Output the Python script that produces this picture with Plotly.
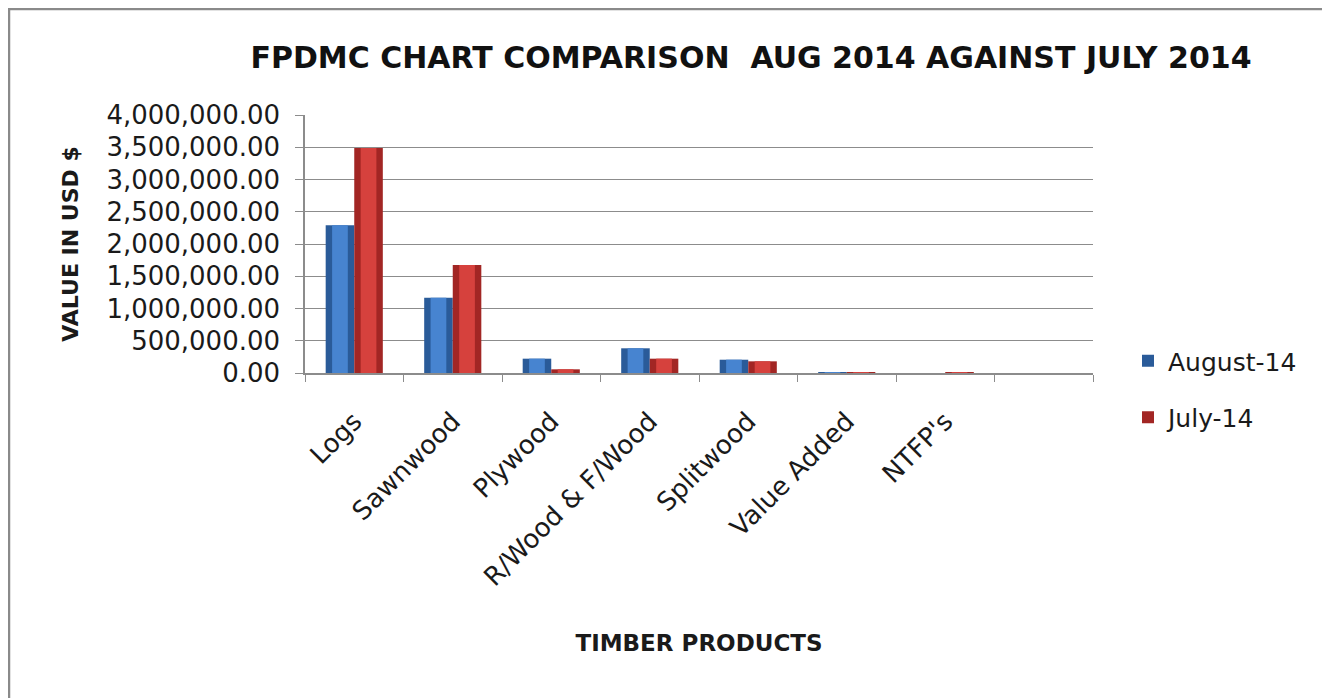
import plotly.graph_objects as go

categories = ["Logs", "Sawnwood", "Plywood", "R/Wood & F/Wood", "Splitwood", "Value Added", "NTFP's", ""]
august_14 = [2290000, 1168000, 222000, 383000, 206000, 15000, None, None]
july_14 = [3490000, 1674000, 57000, 222000, 181000, 15000, 15000, None]
series = [("August-14", august_14, "#2A5B99", "#4784D0", -1),
          ("July-14", july_14, "#A22624", "#D6413D", 1)]

xs = list(range(len(categories)))
bw = 0.29
fig = go.Figure()
for name, vals, dark, light, side in series:
    base_x = [x + side * bw / 2 for x in xs]
    fig.add_trace(go.Bar(x=base_x, y=vals, width=bw, name=name,
                         marker=dict(color=dark, line=dict(width=0)),
                         legendgroup=name, showlegend=True))
    fig.add_trace(go.Bar(x=base_x, y=vals, width=bw * 0.55, name=name,
                         marker=dict(color=light, line=dict(width=0)),
                         legendgroup=name, showlegend=False, hoverinfo="skip"))

# page body has 8px margin: figure coordinates = screen - 8
OFF = 8
W, H = 1330 - OFF, 698 - OFF
L, R, T, B = 305 - OFF, 1093 - OFF, 115 - OFF, 373 - OFF
fig.update_layout(
    width=W, height=H, barmode="overlay",
    paper_bgcolor="white", plot_bgcolor="white",
    margin=dict(l=L, r=W - R, t=T, b=H - B, autoexpand=False),
    font=dict(family="DejaVu Sans", color="#1a1a1a"),
    title=dict(text="<b>FPDMC CHART COMPARISON  AUG 2014 AGAINST JULY 2014</b>",
               x=(751 - OFF) / W, xanchor="center", y=1 - (57 - OFF) / H, yanchor="middle",
               font=dict(size=30, family="DejaVu Sans", color="#111")),
    legend=dict(x=(1128 - 305) / (1093 - 305), xanchor="left", y=(373 - 338) / (373 - 115), yanchor="top",
                font=dict(size=25), tracegroupgap=21, bgcolor="rgba(0,0,0,0)"),
    showlegend=True,
)
fig.update_xaxes(range=[-0.5, len(categories) - 0.5], tickmode="array", tickvals=xs,
                 ticktext=categories, tickangle=-45, ticks="", showgrid=False,
                 showline=True, linecolor="#8c8c8c", linewidth=1.5,
                 tickfont=dict(size=26), zeroline=False, ticklabelstandoff=21,
                 minor=dict(ticks="outside", tick0=-0.5, dtick=1, ticklen=7,
                            tickcolor="#8c8c8c", showgrid=False),
                 title=dict(text="<b>TIMBER PRODUCTS</b>", font=dict(size=23), standoff=44))
fig.update_yaxes(range=[0, 4000000], dtick=500000, tickformat=",.2f",
                 showgrid=True, gridcolor="#8c8c8c", gridwidth=1,
                 showline=True, linecolor="#8c8c8c", linewidth=1.5,
                 ticks="outside", ticklen=8, tickcolor="#8c8c8c", ticklabelstandoff=10,
                 tickfont=dict(size=26), zeroline=False,
                 title=dict(text="<b>VALUE IN USD $</b>", font=dict(size=22), standoff=22))

# chart border
fig.add_shape(type="rect", xref="paper", yref="paper",
              x0=(1 - L) / (R - L), x1=(1320 - L) / (R - L),
              y0=(B - H - 10) / (B - T), y1=(B - 1) / (B - T),
              line=dict(color="#8a8a8a", width=2.5), fillcolor="rgba(0,0,0,0)", layer="below")

fig.write_html("out.html")
